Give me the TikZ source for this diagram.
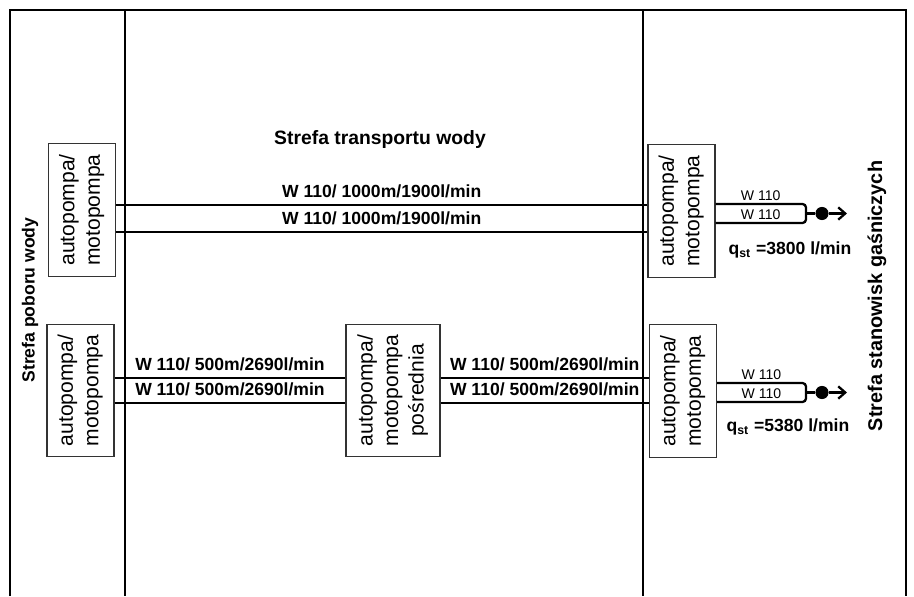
\documentclass[tikz,border=0pt]{standalone}
\usepackage{fontspec}
\setmainfont{Liberation Sans}
\usetikzlibrary{arrows.meta}
\newcommand{\pumplabel}[1]{\rotatebox{90}{\begin{tabular}{@{}c@{}}#1\end{tabular}}}
\begin{document}
\begin{tikzpicture}[x=0.02cm, y=-0.02cm,
	pump/.style={draw=black!80, line width=0.6pt, minimum width=1.34cm, minimum height=2.65cm, inner sep=0pt, font=\fontsize{12}{14.5}\selectfont},
	hose/.style={line width=1.3pt},
	lbl/.style={font=\bfseries\fontsize{10}{12}\selectfont},
	tag/.style={font=\fontsize{8}{9.6}\selectfont, inner sep=1.5pt},
	zone/.style={font=\bfseries\fontsize{11}{13}\selectfont},
	dot/.style={circle, fill, inner sep=0pt, minimum size=7.5pt}]
	\useasboundingbox (0,0) rectangle (914,596);
	\draw[line width=0.6pt] (10,596) -- (10,10) -- (906,10) -- (906,596);
	\draw[hose] (125,10) -- (125,596);
	\draw[hose] (643,10) -- (643,596);
	\node[zone] (trans) at (380,139) {Strefa transportu wody};
	\node[zone, rotate=90, font=\bfseries\fontsize{10}{12}\selectfont] (intake) at (30,300) {Strefa poboru wody};
	\node[zone, rotate=90, font=\bfseries\fontsize{11.3}{13}\selectfont] (fire) at (877,296) {Strefa stanowisk gaśniczych};
	\node[pump] (srcA) at (82,210) {\pumplabel{autopompa/\\motopompa}};
	\node[pump] (srcB) at (80.5,390.5) {\pumplabel{autopompa/\\motopompa}};
	\node[pump, minimum width=1.88cm] (relay) at (393,390.5) {\pumplabel{autopompa/\\motopompa\\pośrednia}};
	\node[pump] (dstA) at (681.5,211) {\pumplabel{autopompa/\\motopompa}};
	\node[pump] (dstB) at (683,391) {\pumplabel{autopompa/\\motopompa}};
	\path (0,205) coordinate (yA1) (0,232) coordinate (yA2) (0,378) coordinate (yB1) (0,403) coordinate (yB2);
	\path (0,204) coordinate (ya1) (0,223) coordinate (ya2) (0,383) coordinate (yb1) (0,402) coordinate (yb2);
	\draw[hose] (srcA.east |- yA1) -- node[lbl, above] {W 110/ 1000m/1900l/min} (dstA.west |- yA1);
	\draw[hose] (srcA.east |- yA2) -- node[lbl, above] {W 110/ 1000m/1900l/min} (dstA.west |- yA2);
	\draw[hose] (srcB.east |- yB1) -- node[lbl, above] {W 110/ 500m/2690l/min} (relay.west |- yB1);
	\draw[hose] (srcB.east |- yB2) -- node[lbl, above] {W 110/ 500m/2690l/min} (relay.west |- yB2);
	\draw[hose] (relay.east |- yB1) -- node[lbl, above] {W 110/ 500m/2690l/min} (dstB.west |- yB1);
	\draw[hose] (relay.east |- yB2) -- node[lbl, above] {W 110/ 500m/2690l/min} (dstB.west |- yB2);
	\coordinate (endA) at (806,213.5);
	\coordinate (endB) at (806,392.5);
	\draw[hose, rounded corners=2pt] (dstA.east |- ya1) -- node[tag, above] {W 110} (endA |- ya1) -- (endA |- ya2) -- node[tag, above] {W 110} (dstA.east |- ya2);
	\draw[hose, rounded corners=2pt] (dstB.east |- yb1) -- node[tag, above] {W 110} (endB |- yb1) -- (endB |- yb2) -- node[tag, above] {W 110} (dstB.east |- yb2);
	\node[dot] (dotA) at (822,213.5) {};
	\node[dot] (dotB) at (822,392.5) {};
	\coordinate (tipA) at (847,213.5);
	\coordinate (tipB) at (847,392.5);
	\draw[hose] (endA) -- (dotA);
	\draw[hose] (endB) -- (dotB);
	\draw[hose, -{Straight Barb[length=4pt, width=7pt]}] (dotA) -- (tipA);
	\draw[hose, -{Straight Barb[length=4pt, width=7pt]}] (dotB) -- (tipB);
	\node[lbl] (flowA) at (790,250) {q\textsubscript{st} =3800 l/min};
	\node[lbl] (flowB) at (788,427) {q\textsubscript{st} =5380 l/min};
\end{tikzpicture}
\end{document}
